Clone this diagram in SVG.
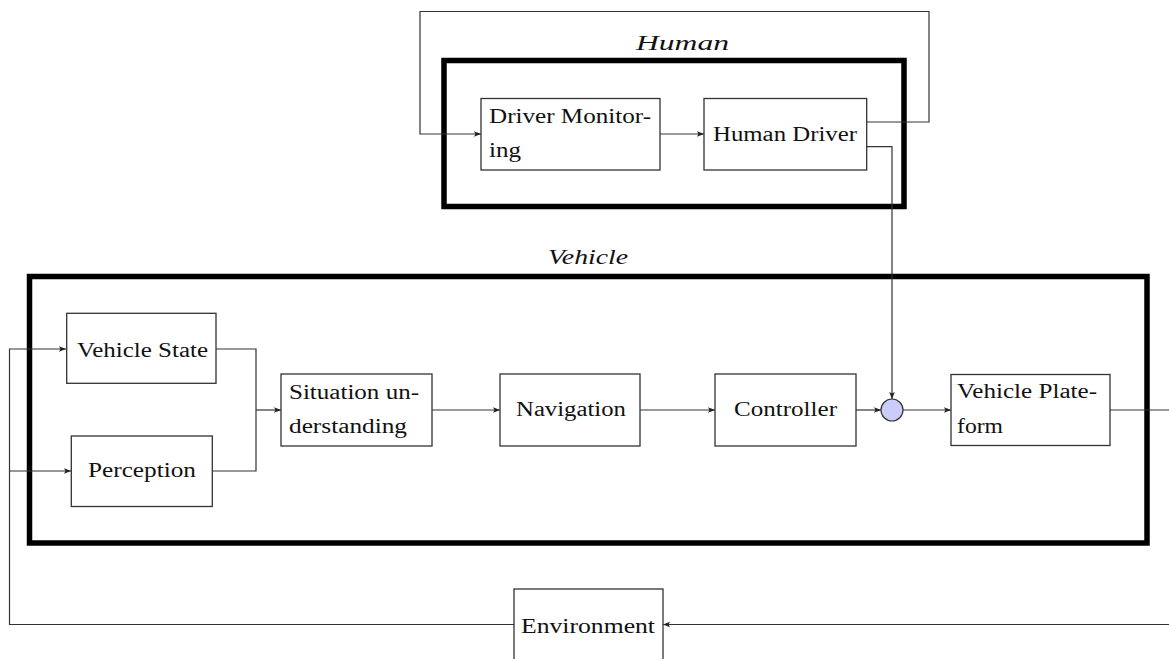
<svg xmlns="http://www.w3.org/2000/svg" width="1169" height="659" viewBox="0 0 1169 659">
<defs>
<marker id="arr" markerUnits="userSpaceOnUse" markerWidth="10" markerHeight="8" refX="7" refY="4" orient="auto">
<path d="M0,1.2 L7,4 L0,6.8 L1.5,4 Z" fill="#222"/>
</marker>
<style>
.box{fill:#fff;stroke:#333;stroke-width:1.3}
.grp{fill:none;stroke:#000;stroke-width:5.5}
.t{font-family:"Liberation Serif","DejaVu Serif",serif;font-size:20px;fill:#111}
.it{font-family:"Liberation Serif","DejaVu Serif",serif;font-size:20px;font-style:italic;fill:#111}
.c{fill:none;stroke:#333;stroke-width:1.2}
.ca{fill:none;stroke:#333;stroke-width:1.2;marker-end:url(#arr)}
</style>
</defs>
<rect width="1169" height="659" fill="#fff"/>
<g id="human-group">
<rect class="grp" x="444" y="60.5" width="460" height="146"/>
<text class="it" x="636" y="50" textLength="93" lengthAdjust="spacingAndGlyphs">Human</text>
</g>
<g id="vehicle-group">
<rect class="grp" x="29.5" y="276.5" width="1117.5" height="266.5"/>
<text class="it" x="548" y="264" textLength="80" lengthAdjust="spacingAndGlyphs">Vehicle</text>
</g>
<g id="connectors">
<path class="ca" d="M866.7,122 H929 V11.5 H420 V134 H481"/>
<path class="ca" d="M660,134 H704"/>
<path class="ca" d="M866.7,146.7 H892 V399"/>
<path class="c" d="M216,349 H256 V471 H212"/>
<path class="ca" d="M256,410 H281"/>
<path class="ca" d="M432,410 H500"/>
<path class="ca" d="M640,410 H715"/>
<path class="ca" d="M856,410 H881"/>
<path class="ca" d="M903,410 H951"/>
<path class="c" d="M1110,410 H1169"/>
<path class="ca" d="M1169,624.5 H663"/>
<path class="ca" d="M514,624.5 H9.5 V349 H66"/>
<path class="ca" d="M9.5,471 H71"/>
</g>
<g id="driver-monitoring">
<rect class="box" x="481" y="98.5" width="179" height="71.5"/>
<text class="t" x="489" y="123" textLength="162" lengthAdjust="spacingAndGlyphs">Driver Monitor-</text>
<text class="t" x="489" y="157" textLength="32" lengthAdjust="spacingAndGlyphs">ing</text>
</g>
<g id="human-driver">
<rect class="box" x="704" y="98.5" width="162.7" height="71.5"/>
<text class="t" x="713" y="141" textLength="144" lengthAdjust="spacingAndGlyphs">Human Driver</text>
</g>
<g id="vehicle-state">
<rect class="box" x="66.7" y="313.3" width="149.3" height="70"/>
<text class="t" x="77" y="357" textLength="131" lengthAdjust="spacingAndGlyphs">Vehicle State</text>
</g>
<g id="perception">
<rect class="box" x="71.3" y="436" width="141" height="70.5"/>
<text class="t" x="88" y="477" textLength="108" lengthAdjust="spacingAndGlyphs">Perception</text>
</g>
<g id="situation">
<rect class="box" x="281" y="374" width="151" height="72"/>
<text class="t" x="289" y="399" textLength="130" lengthAdjust="spacingAndGlyphs">Situation un-</text>
<text class="t" x="289" y="433" textLength="118" lengthAdjust="spacingAndGlyphs">derstanding</text>
</g>
<g id="navigation">
<rect class="box" x="500" y="374" width="140" height="72"/>
<text class="t" x="516" y="416" textLength="110" lengthAdjust="spacingAndGlyphs">Navigation</text>
</g>
<g id="controller">
<rect class="box" x="715" y="374" width="141" height="72"/>
<text class="t" x="734" y="416" textLength="103" lengthAdjust="spacingAndGlyphs">Controller</text>
</g>
<g id="sum">
<circle cx="892" cy="410" r="11" fill="#ccccfa" stroke="#333" stroke-width="1.2"/>
</g>
<g id="vehicle-plateform">
<rect class="box" x="951" y="374.5" width="159" height="71"/>
<text class="t" x="957" y="398" textLength="140" lengthAdjust="spacingAndGlyphs">Vehicle Plate-</text>
<text class="t" x="957" y="433" textLength="46" lengthAdjust="spacingAndGlyphs">form</text>
</g>
<g id="environment">
<rect class="box" x="514" y="589" width="149" height="90"/>
<text class="t" x="521" y="633" textLength="134" lengthAdjust="spacingAndGlyphs">Environment</text>
</g>
</svg>
